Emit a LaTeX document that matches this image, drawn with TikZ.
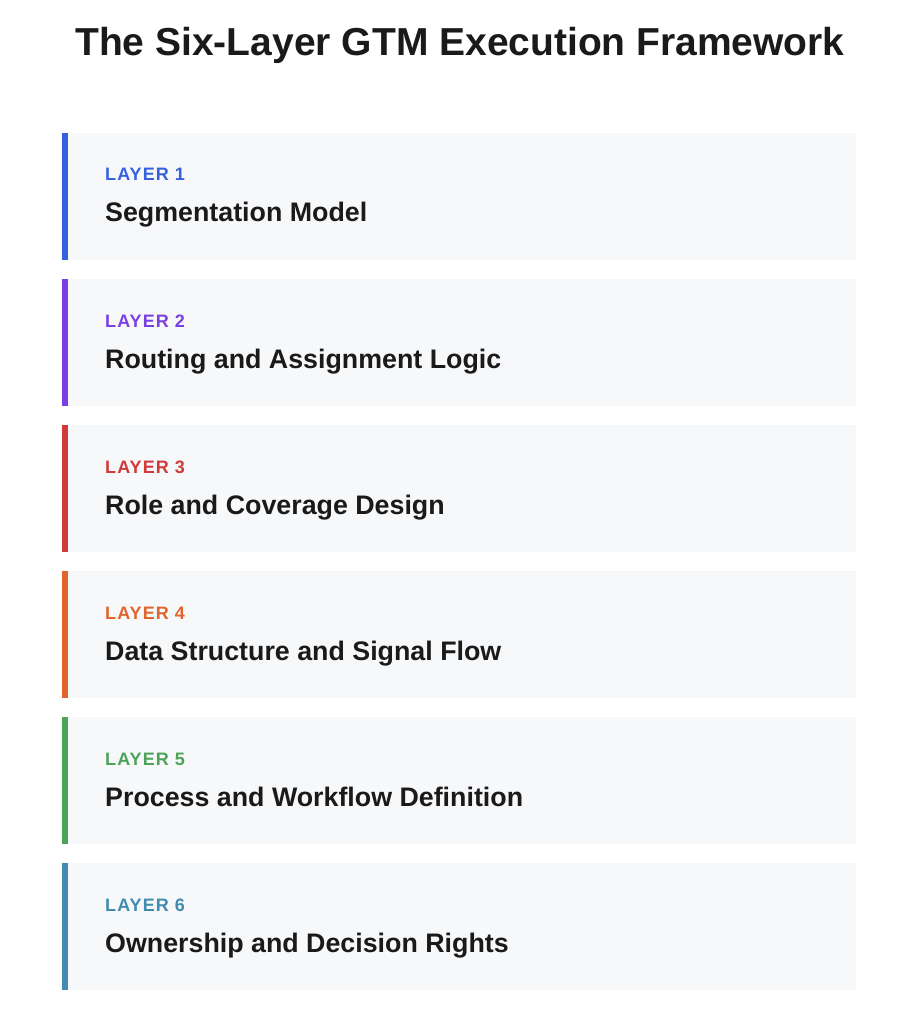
\documentclass[tikz,border=0pt]{standalone}
\usepackage{fontspec}
\setmainfont{Liberation Sans}
\usetikzlibrary{positioning}

\definecolor{ink}{HTML}{1A1A1A}
\definecolor{boxbg}{HTML}{F7F8FA}
\definecolor{lone}{HTML}{3561DF}
\definecolor{ltwo}{HTML}{7B3FE4}
\definecolor{lthree}{HTML}{D03A3A}
\definecolor{lfour}{HTML}{E0652D}
\definecolor{lfive}{HTML}{4CA35A}
\definecolor{lsix}{HTML}{3F8CB0}

\tikzset{
  layerbox/.style={fill=boxbg,minimum width=794pt,minimum height=127pt,anchor=north west,inner sep=0pt},
  layerlabel/.style={text=#1,anchor=base west,inner sep=0pt,
    font=\bfseries\fontsize{18}{21}\selectfont\addfontfeatures{LetterSpace=6}},
  layertitle/.style={text=ink,anchor=base west,inner sep=0pt,
    font=\bfseries\fontsize{26.8}{32}\selectfont}
}

\begin{document}
\begin{tikzpicture}[x=1pt,y=-1pt]
        \useasboundingbox (0,0) rectangle (907,1024);
        \node[text=ink,anchor=base,font=\bfseries\fontsize{39}{46}\selectfont] (title) at (460,56) {The Six-Layer GTM Execution Framework};
        \foreach \i/\c/\t in {1/lone/Segmentation Model,
                              2/ltwo/Routing and Assignment Logic,
                              3/lthree/Role and Coverage Design,
                              4/lfour/Data Structure and Signal Flow,
                              5/lfive/Process and Workflow Definition,
                              6/lsix/Ownership and Decision Rights}{
                \node[layerbox] (box\i) at (62,{133+146*(\i-1)}) {};
                \fill[\c] (box\i.north west) rectangle ([xshift=6pt]box\i.south west);
                \node[layerlabel=\c] (lab\i) at ([xshift=43pt,yshift=-48pt]box\i.north west) {LAYER \i};
                \node[layertitle] (ttl\i) at ([xshift=43pt,yshift=-89pt]box\i.north west) {\t};
        }
\end{tikzpicture}
\end{document}
